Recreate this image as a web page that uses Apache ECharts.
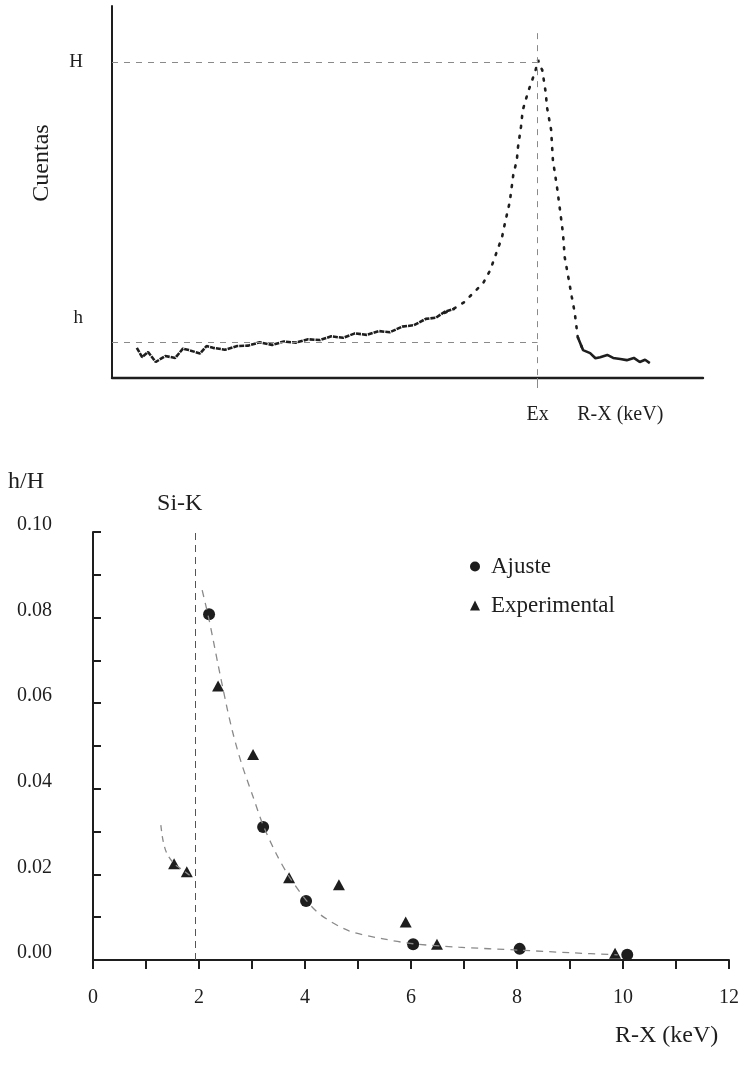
<!DOCTYPE html>
<html>
<head>
<meta charset="utf-8">
<script src="https://cdn.jsdelivr.net/npm/echarts@6/dist/echarts.min.js"></script>
<style>
  html, body { margin: 0; padding: 0; background: #fff; }
  #chart { width: 742px; height: 1067px; }
</style>
</head>
<body>
<div id="chart"></div>
<script>
// --- espectro (arriba), unidades arbitrarias: canal 0-100, cuentas 0-100
const bgX = [4.2, 5.1, 6.1, 7.4, 9.0, 10.7, 12.0, 13.0, 14.9, 16.0, 17.1, 19.1, 21.2, 23.0, 25.0, 27.1, 29.1, 31.1, 33.2, 35.2, 37.1, 39.1, 41.1, 43.1, 45.2, 47.0, 49.1, 51.1, 53.1, 54.8, 56.3, 58.0]
const bgY = [8.1, 5.6, 7.0, 4.3, 5.9, 5.4, 7.9, 7.5, 6.6, 8.6, 8.1, 7.6, 8.6, 8.7, 9.6, 8.9, 9.8, 9.5, 10.4, 10.2, 11.2, 10.8, 12.0, 11.6, 12.6, 12.3, 13.8, 14.2, 15.9, 16.2, 17.8, 18.6]
const peakX = [56.3, 58.0, 59.6, 61.1, 62.8, 64.0, 65.1, 66.0, 66.5, 67.3, 67.9, 68.5, 68.7, 69.2, 69.5, 70.4, 71.1, 71.6, 72.1, 72.4, 72.8, 73.4, 73.6, 74.3, 74.6, 75.3, 75.8, 76.3, 76.6, 77.2, 77.8, 78.3, 78.8, 79.7]
const peakY = [17.5, 18.8, 20.4, 22.8, 25.5, 29.0, 33.9, 37.9, 41.7, 47.3, 54.6, 58.6, 62.1, 67.5, 72.0, 76.9, 80.1, 82.3, 85.5, 83.9, 82.8, 76.6, 72.8, 66.7, 58.6, 51.3, 45.2, 39.0, 32.5, 27.2, 21.8, 17.5, 11.0, 7.5]
const tailX = [78.8, 79.7, 80.9, 81.8, 82.6, 83.8, 84.8, 86.0, 87.1, 88.3, 89.3, 90.2, 91.0]
const tailY = [11.0, 7.5, 6.7, 5.3, 5.6, 6.2, 5.4, 5.1, 4.8, 5.4, 4.3, 4.9, 4.0]
const Ex = 72
const H = 85
const h = 9.7
const hLabel = 16
const topXLabels = { 72: 'Ex', 86: 'R-X (keV)' }

// --- h/H frente a energia (abajo)
const ajusteX = [2.19, 3.21, 4.02, 6.04, 8.05, 10.08]
const ajusteY = [0.0808, 0.0311, 0.0138, 0.0037, 0.0026, 0.0012]
const expX = [1.53, 1.77, 2.36, 3.02, 3.70, 4.64, 5.90, 6.49, 9.85]
const expY = [0.0225, 0.0206, 0.064, 0.048, 0.0192, 0.0176, 0.0089, 0.0037, 0.0016]
const fitX = [2.06, 2.19, 2.36, 2.51, 2.63, 2.80, 3.01, 3.21, 3.45, 3.70, 4.02, 4.30, 4.83, 5.45, 6.04, 6.90, 8.05, 9.00, 9.90]
const fitY = [0.0864, 0.0795, 0.0690, 0.0600, 0.0535, 0.0460, 0.0385, 0.0315, 0.0250, 0.0195, 0.0140, 0.0105, 0.0068, 0.0050, 0.0038, 0.0030, 0.0023, 0.0017, 0.0012]
const fitLeftX = [1.28, 1.32, 1.39, 1.53, 1.65, 1.77, 1.89]
const fitLeftY = [0.0315, 0.028, 0.025, 0.0225, 0.0214, 0.0203, 0.0192]
const siK = 1.92

const zip = (xs, ys) => xs.map((x, i) => [x, ys[i]])

const FONT = '"Liberation Serif", "DejaVu Serif", serif'
const INK = '#1e1e1e'
const GUIDE = '#8a8a8a'

const chart = echarts.init(document.getElementById('chart'))

chart.setOption({
  animation: false,
  textStyle: { fontFamily: FONT, color: INK },
  grid: [
    { left: 112, top: 6, width: 591, height: 372 },
    { left: 93, top: 532, width: 639, height: 428 }
  ],
  legend: {
    orient: 'vertical',
    left: 465,
    top: 550,
    itemWidth: 10,
    itemHeight: 10,
    itemGap: 16,
    data: [
      { name: 'Ajuste', icon: 'circle' },
      { name: 'Experimental', icon: 'triangle' }
    ],
    textStyle: { fontFamily: FONT, fontSize: 23, color: INK, padding: [0, 0, 0, 6] }
  },
  xAxis: [
    {
      gridIndex: 0, type: 'value', min: 0, max: 100,
      axisLine: { show: true, lineStyle: { color: INK, width: 2.4 } },
      splitLine: { show: false },
      axisTick: { show: true, customValues: [Ex], length: 10, inside: false, lineStyle: { color: GUIDE, width: 1 } },
      axisLabel: {
        customValues: [72, 86],
        formatter: v => topXLabels[v] || '',
        margin: 27, fontSize: 20, fontFamily: FONT, color: INK
      }
    },
    {
      gridIndex: 1, type: 'value', min: 0, max: 12, interval: 1,
      axisLine: { show: true, lineStyle: { color: INK, width: 2 } },
      splitLine: { show: false },
      axisTick: { show: true, length: 9, lineStyle: { color: INK, width: 2 } },
      axisLabel: {
        formatter: v => (v % 2 === 0 ? String(v) : ''),
        margin: 28, fontSize: 20, fontFamily: FONT, color: INK
      }
    }
  ],
  yAxis: [
    {
      gridIndex: 0, type: 'value', min: 0, max: 100,
      name: 'Cuentas', nameLocation: 'middle', nameGap: 58, nameRotate: 90,
      nameTextStyle: { fontFamily: FONT, fontSize: 24, color: INK, padding: [0, 0, 0, 58] },
      axisLine: { show: true, lineStyle: { color: INK, width: 2 } },
      splitLine: { show: false },
      axisTick: { show: false },
      axisLabel: {
        customValues: [hLabel, H],
        formatter: v => (v === H ? 'H' : 'h'),
        margin: 29, fontSize: 19, fontFamily: FONT, color: INK
      }
    },
    {
      gridIndex: 1, type: 'value', min: 0, max: 0.1, interval: 0.01,
      name: 'h/H', nameLocation: 'end', nameGap: 38,
      nameTextStyle: { fontFamily: FONT, fontSize: 24, color: INK, align: 'right', padding: [0, 49, 0, 0] },
      axisLine: { show: true, lineStyle: { color: INK, width: 2 } },
      splitLine: { show: false },
      axisTick: { show: true, inside: true, length: 8, lineStyle: { color: INK, width: 2 } },
      axisLabel: {
        formatter: v => (Math.round(v * 100) % 2 === 0 ? v.toFixed(2) : ''),
        margin: 41, fontSize: 20, fontFamily: FONT, color: INK,
        verticalAlign: 'bottom', lineHeight: 14
      }
    }
  ],
  series: [
    // espectro
    {
      type: 'line', xAxisIndex: 0, yAxisIndex: 0, data: zip(bgX, bgY),
      showSymbol: false, silent: true,
      lineStyle: { color: INK, width: 2.6, type: [5, 1] },
      markLine: {
        silent: true, symbol: 'none', animation: false,
        lineStyle: { color: GUIDE, width: 1, type: [6, 6] },
        label: { show: false },
        data: [
          [{ coord: [0, H] }, { coord: [Ex, H] }],
          [{ coord: [0, h] }, { coord: [Ex, h] }],
          [{ coord: [Ex, 92.7] }, { coord: [Ex, 0] }]
        ]
      }
    },
    {
      type: 'line', xAxisIndex: 0, yAxisIndex: 0, data: zip(peakX, peakY),
      showSymbol: false, silent: true,
      lineStyle: { color: INK, width: 2.6, type: [2, 8], cap: 'round' }
    },
    {
      type: 'line', xAxisIndex: 0, yAxisIndex: 0, data: zip(tailX, tailY),
      showSymbol: false, silent: true,
      lineStyle: { color: INK, width: 2.6 }
    },
    // ajuste (curvas)
    {
      name: 'fit', type: 'line', xAxisIndex: 1, yAxisIndex: 1, data: zip(fitX, fitY),
      smooth: 0.3, showSymbol: false, silent: true,
      lineStyle: { color: GUIDE, width: 1.3, type: [7, 6] },
      markLine: {
        silent: true, symbol: 'none', animation: false,
        lineStyle: { color: '#555', width: 1, type: [7, 5] },
        label: {
          show: true, position: 'end', formatter: 'Si-K', distance: 16,
          fontFamily: FONT, fontSize: 24, color: INK, padding: [0, 30, 0, 0]
        },
        data: [[{ coord: [siK, 0] }, { coord: [siK, 0.1] }]]
      }
    },
    {
      name: 'fitLeft', type: 'line', xAxisIndex: 1, yAxisIndex: 1, data: zip(fitLeftX, fitLeftY),
      smooth: 0.3, showSymbol: false, silent: true,
      lineStyle: { color: GUIDE, width: 1.3, type: [6, 5] }
    },
    {
      name: 'Ajuste', type: 'scatter', xAxisIndex: 1, yAxisIndex: 1, data: zip(ajusteX, ajusteY),
      symbol: 'circle', symbolSize: 12,
      itemStyle: { color: INK, opacity: 1 }
    },
    {
      name: 'Experimental', type: 'scatter', xAxisIndex: 1, yAxisIndex: 1, data: zip(expX, expY),
      symbol: 'triangle', symbolSize: [12, 11],
      itemStyle: { color: INK, opacity: 1 }
    }
  ],
  graphic: [
    {
      type: 'text', left: 615, top: 1024,
      style: { text: 'R-X (keV)', font: '24px ' + FONT, fill: INK }
    }
  ]
})
</script>
</body>
</html>
